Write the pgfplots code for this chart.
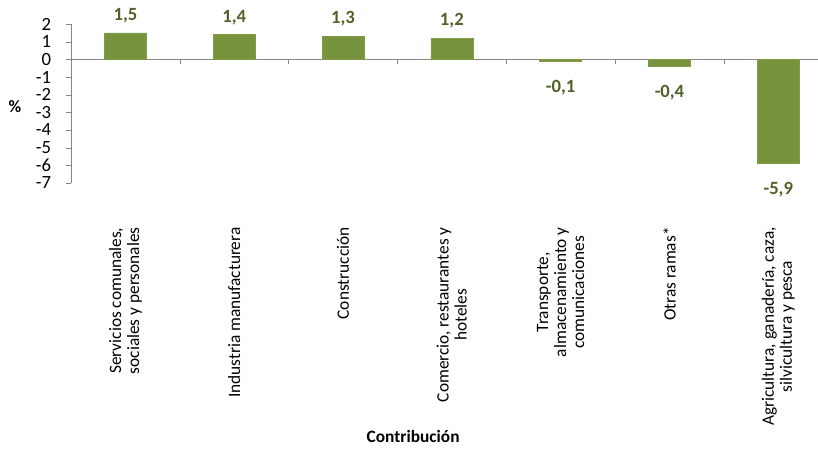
\documentclass[border=0pt]{standalone}
\usepackage{fontspec}
\setmainfont{Carlito}
\usepackage{pgfplots}
\pgfplotsset{compat=1.18}
\definecolor{barfill}{RGB}{119,147,60}
\definecolor{barline}{RGB}{128,156,72}
\definecolor{lbl}{RGB}{79,98,40}
\definecolor{axisgray}{RGB}{134,134,134}
\begin{document}
\begin{tikzpicture}
\path[use as bounding box] (-53.25pt,-200.25pt) rectangle (560.25pt,137.25pt);
\begin{axis}[
    at={(0pt,0pt)}, anchor=south west,
    scale only axis,
    width=560.25pt, height=119.25pt,
    xmin=-0.5, xmax=6.365,
    ymin=-7, ymax=2,
    axis x line*=bottom,
    axis y line*=left,
    x axis line style={draw=none},
    y axis line style={draw=axisgray, -},
    xtick={0,...,6},
    xtick style={draw=none},
    xticklabels={
        {Servicios comunales,\\sociales y personales},
        {Industria manufacturera},
        {Construcción},
        {Comercio, restaurantes y\\hoteles},
        {Transporte,\\almacenamiento y\\comunicaciones},
        {Otras ramas*},
        {Agricultura, ganadería, caza,\\silvicultura y pesca}},
    xticklabel style={yshift=-26pt, rotate=90, anchor=east, align=center, font=\fontsize{13}{13.5}\selectfont},
    ytick={-7,-6,-5,-4,-3,-2,-1,0,1,2},
    yticklabels={-7,-6,-5,-4,-3,-2,-1,0,1,2},
    ytick style={draw=axisgray},
    tick align=outside,
    major tick length=3.75pt,
    yticklabel style={font=\fontsize{14}{14}\selectfont, inner sep=1pt, xshift=-10pt},
    xlabel={Contribución},
    xlabel style={at={(axis description cs:0.458,-1.597)}, anchor=center, font=\fontsize{13}{15}\selectfont\bfseries},
    ylabel={\%},
    ylabel style={at={(axis description cs:-0.075,0.478)}, rotate=-90, anchor=center, font=\fontsize{13}{15}\selectfont\bfseries},
    clip=false,
]
\draw[axisgray] (axis cs:-0.5,0) ++(-3.75pt,0pt) -- (axis cs:6.365,0);
\pgfplotsinvokeforeach{0.5,1.5,2.5,3.5,4.5,5.5}{
    \draw[axisgray] (axis cs:#1,0) -- ++(0pt,-3.75pt);
}
\addplot[ybar, bar shift=0pt, bar width=31.5pt, fill=barfill, draw=barline,
    nodes near coords, point meta=explicit symbolic,
    every node near coord/.append style={anchor=base, yshift=9.4pt, inner sep=0pt,
        font=\fontsize{14}{16}\selectfont\bfseries, text=lbl}]
coordinates {(0,1.5) [1,5] (1,1.4) [1,4] (2,1.3) [1,3] (3,1.2) [1,2]};
\addplot[ybar, bar shift=0pt, bar width=31.5pt, fill=barfill, draw=barline,
    nodes near coords, point meta=explicit symbolic,
    every node near coord/.append style={anchor=base, yshift=-23.2pt, inner sep=0pt,
        font=\fontsize{14}{16}\selectfont\bfseries, text=lbl}]
coordinates {(4,-0.1) [-0,1] (5,-0.4) [-0,4] (6,-5.9) [-5,9]};
\end{axis}
\end{tikzpicture}
\end{document}
